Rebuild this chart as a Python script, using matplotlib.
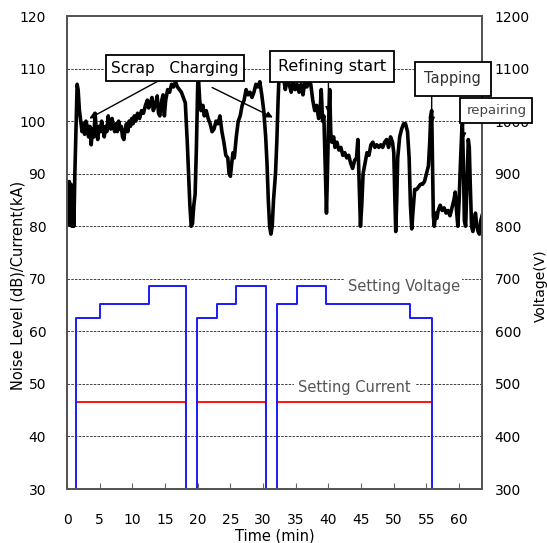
import numpy as np
import matplotlib
matplotlib.use("Agg")
import matplotlib.pyplot as plt

plt.rcParams['font.family'] = ['DejaVu Sans']

# noise level (dB)
time_min = [0.0, 0.2, 0.35, 0.45, 0.6, 0.75, 0.9, 1.05, 1.2, 1.4, 1.55, 1.7, 1.9, 2.1, 2.3, 2.5, 2.7, 2.9,
            3.1, 3.3, 3.5, 3.7, 3.9, 4.1, 4.3, 4.5, 4.7, 4.9, 5.1, 5.3, 5.5, 5.7, 5.9, 6.1, 6.3, 6.5, 6.7,
            6.9, 7.1, 7.3, 7.5, 7.7, 7.9, 8.1, 8.3, 8.5, 8.7, 8.9, 9.1, 9.3, 9.5, 9.7, 9.9, 10.1, 10.3,
            10.5, 10.8, 11.1, 11.4, 11.7, 12.0, 12.3, 12.5, 12.8, 13.0, 13.2, 13.5, 13.8, 14.0, 14.2,
            14.5, 14.7, 14.9, 15.1, 15.4, 15.7, 16.0, 16.3, 16.6, 16.9, 17.2, 17.5, 17.8, 18.1, 18.4,
            18.6, 18.8, 19.0, 19.2, 19.4, 19.6, 19.8, 20.0, 20.1, 20.3, 20.5, 20.8, 21.0, 21.3, 21.6,
            21.9, 22.2, 22.5, 22.8, 23.1, 23.4, 23.7, 24.0, 24.3, 24.6, 24.8, 25.0, 25.2, 25.4, 25.6,
            25.9, 26.2, 26.5, 26.8, 27.1, 27.4, 27.7, 28.0, 28.3, 28.6, 28.9, 29.2, 29.5, 29.8, 30.1,
            30.4, 30.6, 30.8, 31.0, 31.2, 31.4, 31.6, 31.9, 32.1, 32.3, 32.5, 32.8, 33.1, 33.4, 33.7,
            34.0, 34.3, 34.6, 34.9, 35.2, 35.5, 35.8, 36.1, 36.4, 36.7, 37.0, 37.3, 37.6, 37.9, 38.2,
            38.5, 38.7, 38.9, 39.1, 39.3, 39.5, 39.7, 39.85, 40.0, 40.2, 40.35, 40.5, 40.8, 41.0, 41.3,
            41.6, 41.9, 42.2, 42.5, 42.8, 43.1, 43.4, 43.7, 44.0, 44.3, 44.5, 44.7, 44.9, 45.1, 45.3,
            45.6, 45.9, 46.2, 46.5, 46.8, 47.1, 47.4, 47.7, 48.0, 48.3, 48.6, 48.9, 49.2, 49.5, 49.8,
            50.0, 50.15, 50.3, 50.45, 50.6, 50.9, 51.2, 51.5, 51.8, 52.1, 52.35, 52.55, 52.75, 52.95,
            53.2, 53.5, 53.8, 54.1, 54.4, 54.7, 55.0, 55.3, 55.5, 55.65, 55.8, 55.9, 56.05, 56.2, 56.4,
            56.6, 56.8, 57.1, 57.4, 57.7, 58.0, 58.3, 58.6, 58.9, 59.2, 59.4, 59.6, 59.8, 60.0, 60.2,
            60.4, 60.5, 60.65, 60.8, 61.0, 61.2, 61.4, 61.55, 61.7, 61.9, 62.1, 62.3, 62.5, 62.7, 62.9,
            63.1, 63.3, 63.5]
noise_db = [80.5, 87.5, 88.5, 80.2, 88, 80, 85, 80, 90, 100, 107, 106, 102, 100, 98, 99.5, 97.5, 100,
            99, 97, 99, 95.5, 98.5, 97, 101.5, 98, 96.5, 99, 98, 100, 98.5, 97, 99, 98, 101, 99, 98.5,
            100.5, 99, 98, 99.5, 98, 100, 98.5, 99, 97, 96.5, 98.5, 99.5, 98, 100, 99, 100.5, 99.5, 101,
            100, 101.5, 100.5, 102, 101.5, 103, 104, 102.5, 103.5, 104.5, 102, 103, 104.8, 101.5, 101,
            104, 105, 101, 104, 106, 105.5, 107, 106.5, 107.5, 106.5, 106, 105.5, 104.5, 103.5, 96,
            90, 84, 80, 80.5, 84, 86, 95, 107, 108.5, 104, 102, 103, 101, 102, 100.5,
            99.5, 98, 98.5, 100, 99.5, 101, 98, 96, 93.5, 93, 90, 89.5, 92, 94, 93,
            97, 100, 101, 103, 104, 106, 105, 105.5, 104.5, 105.5, 107, 106.5, 107.5, 105, 102,
            97, 92, 85, 80, 78.5, 80, 85, 90, 96, 104, 110.5, 109, 108.5, 106, 108,
            107, 105.5, 107.5, 106, 107, 105.5, 107, 105, 107.5, 106.5, 108, 107, 104, 102, 103,
            100.5, 101.5, 106, 100, 101, 92, 82.5, 90, 99, 106, 98, 96, 97, 95, 96,
            94.5, 95, 93.5, 94, 93, 93.5, 92, 91, 92.5, 93, 96.5, 88, 80, 84, 90,
            92, 94, 93.5, 95.5, 96, 95, 95.5, 95, 95.5, 95, 96, 96.5, 95, 97, 96,
            94, 86, 79, 85, 93, 97, 98.5, 99.5, 99.5, 98, 93, 84, 79.5, 83,
            87, 87, 87.5, 88, 88, 88.5, 90, 91.5, 96, 101, 102, 94, 82, 80, 82.5,
            81.5, 83, 84, 83, 83.5, 82.5, 83, 82, 83.5, 85, 86.5, 83, 80, 85, 92,
            98, 99.5, 92, 81, 80, 88, 96.5, 95, 88, 80, 79, 81, 82.5, 80, 79,
            78.5, 81, 82]

# setting voltage (V), three heats, each starting and ending at the axis floor
volt_time = [1.4, 1.4, 5.0, 5.0, 12.5, 12.5, 18.2, 18.2, np.nan,
             19.85, 19.85, 23.0, 23.0, 25.9, 25.9, 30.5, 30.5, np.nan,
             32.1, 32.1, 35.2, 35.2, 39.6, 39.6, 52.5, 52.5, 55.8, 55.8]
volt_v = [300, 625, 625, 653, 653, 686, 686, 300, np.nan,
          300, 625, 625, 653, 653, 686, 686, 300, np.nan,
          300, 653, 653, 686, 686, 653, 653, 625, 625, 300]

# setting current (kA)
curr_time = [1.4, 18.0, np.nan, 19.85, 30.4, np.nan, 32.1, 55.8]
curr_ka = [46.5, 46.5, np.nan, 46.5, 46.5, np.nan, 46.5, 46.5]

fig = plt.figure(figsize=(5.47, 5.43), dpi=100)
ax = fig.add_axes([0.1225, 0.0994, 0.7587, 0.8711])
ax2 = ax.twinx()

ax.set_xlim(0, 63.5)
ax.set_ylim(30, 120)
ax2.set_ylim(300, 1200)

ax.set_yticks(range(30, 121, 10))
ax2.set_yticks(range(300, 1201, 100))
ax.set_xticks(range(0, 61, 5))

ax.grid(axis='y', color='#222222', linestyle=(0, (3, 1.5)), linewidth=0.6)

ax.plot(time_min, noise_db, color='black', lw=2.6, zorder=3)
ax.plot(curr_time, curr_ka, color='#ff0000', lw=1.3, zorder=2)
ax2.plot(volt_time, volt_v, color='#1a1aff', lw=1.4, zorder=2)

ax.tick_params(axis='x', direction='in', length=4, width=0.8, color='#666666', pad=17, labelsize=10)
ax.tick_params(axis='y', length=0, pad=15, labelsize=10)
ax2.tick_params(axis='y', length=0, pad=9, labelsize=10)

for a in (ax, ax2):
    for s in a.spines.values():
        s.set_color('#555555')
        s.set_linewidth(1.4)

ax.set_xlabel('Time (min)', fontsize=10.5, labelpad=1)
ax.set_ylabel('Noise Level (dB)/Current(kA)', fontsize=10.5)
ax.yaxis.set_label_coords(-0.10, 0.43)
ax2.set_ylabel('Voltage(V)', fontsize=10)
ax2.yaxis.set_label_coords(1.125, 0.43)

ax.text(51.5, 68.6, 'Setting Voltage', color='#555555', fontsize=10.5, ha='center', va='center',
        bbox=dict(boxstyle='square,pad=0.15', fc='white', ec='none'), zorder=4)
ax.text(44.0, 49.3, 'Setting Current', color='#555555', fontsize=10.5, ha='center', va='center',
        bbox=dict(boxstyle='square,pad=0.3', fc='white', ec='none'), zorder=4)

arrow = dict(arrowstyle='-|>', color='black', lw=1.0, mutation_scale=9, shrinkA=0, shrinkB=0)
ax2.annotate('', xy=(3.4, 100.5), xytext=(14.2, 107.8), xycoords=ax.transData,
             textcoords=ax.transData, arrowprops=arrow, zorder=5)
ax2.annotate('', xy=(31.5, 100.7), xytext=(22.2, 106.4), xycoords=ax.transData,
             textcoords=ax.transData, arrowprops=arrow, zorder=5)
ax2.annotate('', xy=(40.0, 101.5), xytext=(40.0, 107.2), xycoords=ax.transData,
             textcoords=ax.transData, arrowprops=arrow, zorder=5)
ax2.annotate('', xy=(55.8, 99.5), xytext=(55.8, 105.5), xycoords=ax.transData,
             textcoords=ax.transData, arrowprops=arrow, zorder=5)
ax2.annotate('', xy=(60.6, 96.5), xytext=(60.6, 99.6), xycoords=ax.transData,
             textcoords=ax.transData, arrowprops=arrow, zorder=5)

box = dict(boxstyle='square,pad=0.35', fc='white', ec='black', lw=1.3)
ax2.text(16.5, 110.1, 'Scrap   Charging', transform=ax.transData, fontsize=11,
         ha='center', va='center', bbox=box, zorder=6)
ax2.text(40.5, 110.4, 'Refining start', transform=ax.transData, fontsize=11.5,
         ha='center', va='center', bbox=dict(boxstyle='square,pad=0.5', fc='white', ec='black', lw=1.3),
         zorder=6)
ax2.text(59.0, 108.1, 'Tapping', transform=ax.transData, fontsize=10.5, color='#333333',
         ha='center', va='center', bbox=dict(boxstyle='square,pad=0.65', fc='white', ec='black', lw=1.3),
         zorder=6, clip_on=False)
ax2.text(65.7, 102.1, 'repairing', transform=ax.transData, fontsize=9.5, color='#444444',
         ha='center', va='center', bbox=dict(boxstyle='square,pad=0.45', fc='white', ec='black', lw=1.3),
         zorder=6, clip_on=False)

fig.savefig('out.png', dpi=100)
